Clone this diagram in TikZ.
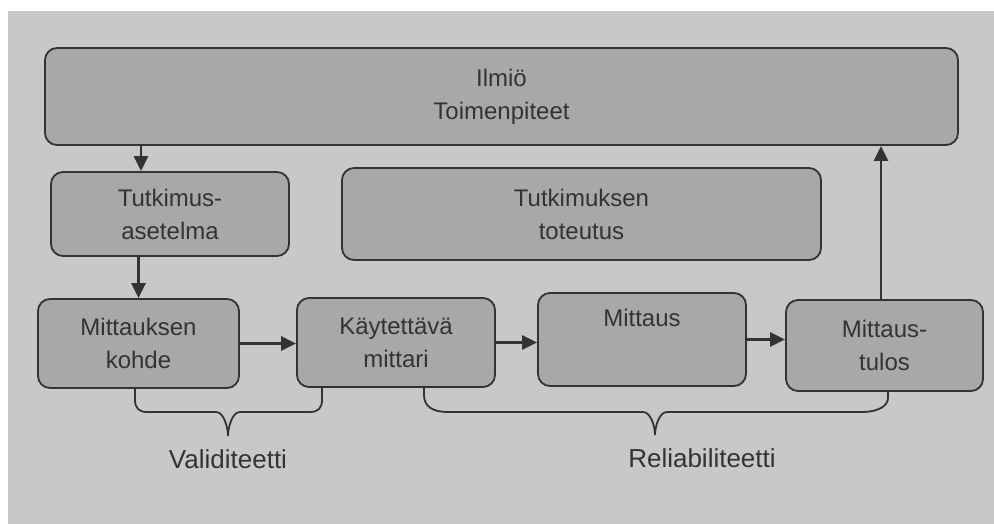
\documentclass[tikz,border=0pt]{standalone}
\usepackage{fontspec}
\setmainfont{Liberation Sans}
\usetikzlibrary{arrows.meta}
\definecolor{page}{HTML}{C8C8C8}
\definecolor{boxfill}{HTML}{A8A8A8}
\definecolor{ink}{HTML}{333333}
\tikzset{
  box/.style={draw=ink, line width=1.8pt, fill=boxfill, rounded corners=12pt, inner sep=0pt,
    align=center, text=ink, font=\fontsize{24}{33}\selectfont},
  arr/.style={draw=ink, line width=2.4pt, -{Triangle[length=15pt,width=14pt]}},
  brace/.style={draw=ink, line width=1.8pt},
  lbl/.style={text=ink, font=\fontsize{26}{30}\selectfont, inner sep=0pt}
}
\begin{document}
\begin{tikzpicture}[x=1pt,y=-1pt]
\useasboundingbox (0,0) rectangle (994,524);
\fill[white] (0,0) rectangle (994,524);
\fill[page] (8,11) rectangle (994,524);

\node[box, minimum width=913pt, minimum height=97pt] (ilmio) at (501.5,96.5) {Ilmiö\\Toimenpiteet};
\node[box, minimum width=238pt, minimum height=84pt] (tut) at (170,214) {Tutkimus-\\asetelma};
\node[box, minimum width=479pt, minimum height=92pt] (tot) at (581.5,214) {Tutkimuksen\\toteutus};
\node[box, minimum width=201pt, minimum height=89pt] (kohde) at (138.5,343.5) {Mittauksen\\kohde};
\node[box, minimum width=198pt, minimum height=89pt] (mittari) at (396,342.5) {Käytettävä\\mittari};
\node[box, minimum width=208pt, minimum height=93pt] (mittaus) at (642,339.5) {Mittaus\\\strut};
\node[box, minimum width=197pt, minimum height=91pt] (tulos) at (884.5,345.5) {Mittaus-\\tulos};

\coordinate (a1) at (141,0);
\draw[arr] (ilmio.south -| a1) -- (tut.north -| a1);
\draw[arr] (kohde.north |- tut.south) -- (kohde.north);
\draw[arr] (kohde.east) -- (kohde.east -| mittari.west);
\draw[arr] (mittari.east) -- (mittari.east -| mittaus.west);
\draw[arr] (mittaus.east) -- (mittaus.east -| tulos.west);
\coordinate (a2) at (881,0);
\draw[arr] (tulos.north -| a2) -- (ilmio.south -| a2);

% Validiteetti brace
\coordinate (vL) at (135,388);
\coordinate (vR) at (322,387);
\draw[brace] (vL) -- (135,400) .. controls (135,408) and (139,412) .. (147,412)
  -- (216,412) .. controls (224,412) and (228,428) .. (228,436)
  .. controls (228,428) and (232,412) .. (240,412)
  -- (310,412) .. controls (318,412) and (322,408) .. (vR |- 0,400) -- (vR);
\node[lbl] (val) at (228,459) {Validiteetti};

% Reliabiliteetti brace
\coordinate (rL) at (424,387);
\coordinate (rR) at (888,391);
\draw[brace] (rL) -- (424,395) .. controls (424,406) and (432,412) .. (448,412)
  -- (643,412) .. controls (651,412) and (655,427) .. (655,435)
  .. controls (655,427) and (659,412) .. (667,412)
  -- (862,412) .. controls (878,412) and (888,406) .. (888,398) -- (rR);
\node[lbl] (rel) at (702,458) {Reliabiliteetti};
\end{tikzpicture}
\end{document}
